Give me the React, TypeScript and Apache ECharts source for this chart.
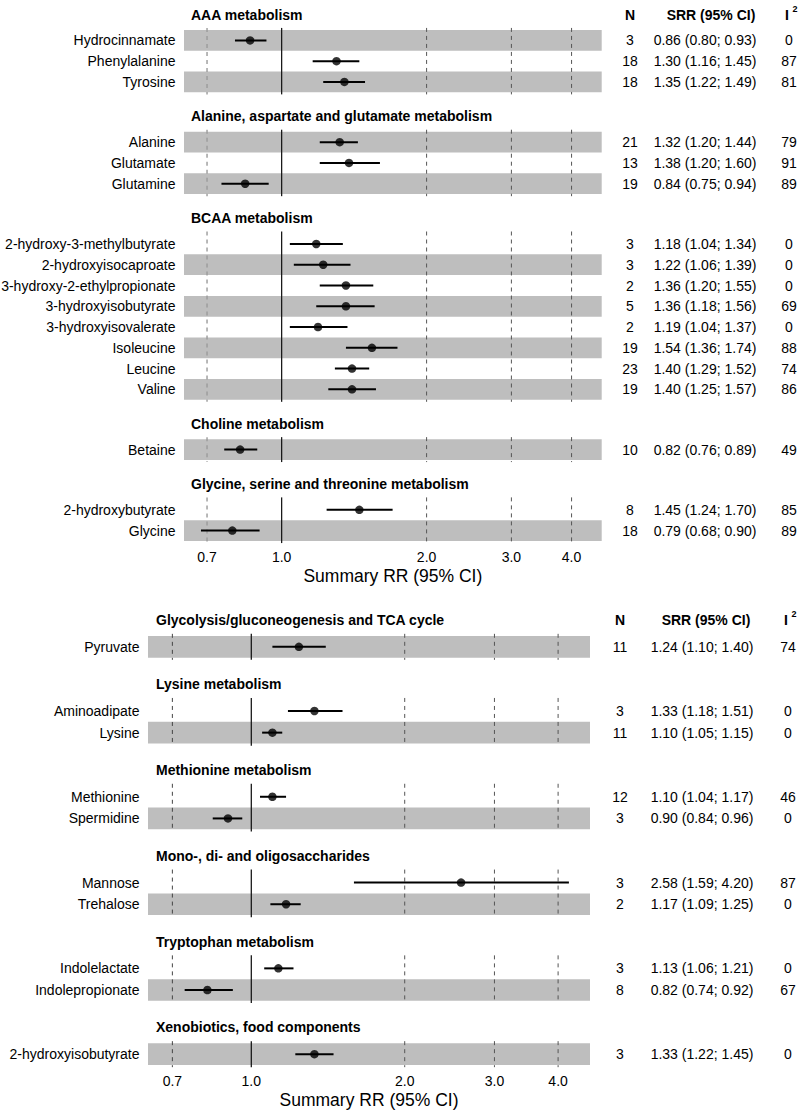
import React, { useEffect, useRef } from "react";
import * as echarts from "echarts";

// ---------- DATA ----------
const topGroups = [
  "AAA metabolism",
  "Alanine, aspartate and glutamate metabolism",
  "BCAA metabolism",
  "Choline metabolism",
  "Glycine, serine and threonine metabolism",
];
const topRowGroup = [0, 0, 0, 1, 1, 1, 2, 2, 2, 2, 2, 2, 2, 2, 3, 4, 4];
const topLabels = [
  "Hydrocinnamate",
  "Phenylalanine",
  "Tyrosine",
  "Alanine",
  "Glutamate",
  "Glutamine",
  "2-hydroxy-3-methylbutyrate",
  "2-hydroxyisocaproate",
  "3-hydroxy-2-ethylpropionate",
  "3-hydroxyisobutyrate",
  "3-hydroxyisovalerate",
  "Isoleucine",
  "Leucine",
  "Valine",
  "Betaine",
  "2-hydroxybutyrate",
  "Glycine",
];
const topN = [3, 18, 18, 21, 13, 19, 3, 3, 2, 5, 2, 19, 23, 19, 10, 8, 18];
const topEst = [0.86, 1.3, 1.35, 1.32, 1.38, 0.84, 1.18, 1.22, 1.36, 1.36, 1.19, 1.54, 1.4, 1.4, 0.82, 1.45, 0.79];
const topLo = [0.8, 1.16, 1.22, 1.2, 1.2, 0.75, 1.04, 1.06, 1.2, 1.18, 1.04, 1.36, 1.29, 1.25, 0.76, 1.24, 0.68];
const topHi = [0.93, 1.45, 1.49, 1.44, 1.6, 0.94, 1.34, 1.39, 1.55, 1.56, 1.37, 1.74, 1.52, 1.57, 0.89, 1.7, 0.9];
const topI2 = [0, 87, 81, 79, 91, 89, 0, 0, 0, 69, 0, 88, 74, 86, 49, 85, 89];

const bottomGroups = [
  "Glycolysis/gluconeogenesis and TCA cycle",
  "Lysine metabolism",
  "Methionine metabolism",
  "Mono-, di- and oligosaccharides",
  "Tryptophan metabolism",
  "Xenobiotics, food components",
];
const bottomRowGroup = [0, 1, 1, 2, 2, 3, 3, 4, 4, 5];
const bottomLabels = [
  "Pyruvate",
  "Aminoadipate",
  "Lysine",
  "Methionine",
  "Spermidine",
  "Mannose",
  "Trehalose",
  "Indolelactate",
  "Indolepropionate",
  "2-hydroxyisobutyrate",
];
const bottomN = [11, 3, 11, 12, 3, 3, 2, 3, 8, 3];
const bottomEst = [1.24, 1.33, 1.1, 1.1, 0.9, 2.58, 1.17, 1.13, 0.82, 1.33];
const bottomLo = [1.1, 1.18, 1.05, 1.04, 0.84, 1.59, 1.09, 1.06, 0.74, 1.22];
const bottomHi = [1.4, 1.51, 1.15, 1.17, 0.96, 4.2, 1.25, 1.21, 0.92, 1.45];
const bottomI2 = [74, 0, 0, 46, 0, 87, 0, 0, 67, 0];

const xTicks = [0.7, 1.0, 2.0, 3.0, 4.0];
const refValue = 1.0;
const xMin = 0.627;
const xMax = 4.62;
const xTitle = "Summary RR (95% CI)";
const colN = "N";
const colSRR = "SRR (95% CI)";
const colI = "I";
const colISup = "2";

// ---------- LAYOUT ----------
const FONT = "'Liberation Sans', Arial, Helvetica, sans-serif";

const panels = [
  {
    groups: topGroups, rowGroup: topRowGroup, labels: topLabels, n: topN,
    est: topEst, lo: topLo, hi: topHi, i2: topI2,
    grid: { left: 184, top: 30, width: 417.7, height: 511 },
    gap: 2.9, nX: 630, srrX: 705, srrHeadX: 711, iX: 787, headerDx: 7,
    firstDashColor: "#9a9a9a",
  },
  {
    groups: bottomGroups, rowGroup: bottomRowGroup, labels: bottomLabels, n: bottomN,
    est: bottomEst, lo: bottomLo, hi: bottomHi, i2: bottomI2,
    grid: { left: 148, top: 636, width: 442, height: 429 },
    gap: 2.96, nX: 620, srrX: 702, srrHeadX: 706, iX: 786, headerDx: 8,
    firstDashColor: "#444",
  },
];

function txt(text: string, x: number, y: number, align: string, opts: any = {}) {
  return {
    type: "text",
    silent: true,
    style: {
      text,
      x,
      y,
      align,
      textAlign: align,
      verticalAlign: "middle",
      textVerticalAlign: "middle",
      fontSize: opts.fontSize || 14,
      fontWeight: opts.bold ? "bold" : "normal",
      fontFamily: FONT,
      fill: "#000",
    },
  };
}

function buildOption() {
  const grids: any[] = [];
  const xAxes: any[] = [];
  const yAxes: any[] = [];
  const series: any[] = [];

  panels.forEach((p, idx) => {
    const ys: number[] = [];
    let y = 0;
    p.rowGroup.forEach((g, i) => {
      if (i > 0) y += g !== p.rowGroup[i - 1] ? p.gap : 1;
      ys.push(y);
    });
    const gFirst = p.groups.map((_, g) => ys[p.rowGroup.indexOf(g)]);
    const gLast = p.groups.map((_, g) => ys[p.rowGroup.lastIndexOf(g)]);
    const gray = ys.map((_, i) => (p.rowGroup.lastIndexOf(p.rowGroup[i]) - i) % 2 === 0);
    const yMax = ys[ys.length - 1] + 0.5;

    grids.push({ ...p.grid, containLabel: false });
    xAxes.push({
      type: "log",
      logBase: 10,
      gridIndex: idx,
      min: xMin,
      max: xMax,
      axisLine: { show: false },
      axisTick: { show: false },
      minorTick: { show: false },
      splitLine: { show: false },
      axisLabel: {
        customValues: xTicks,
        formatter: (v: number) => Number(v).toFixed(1),
        margin: 9,
        fontSize: 14,
        color: "#000",
        fontFamily: FONT,
        showMinLabel: true,
        showMaxLabel: true,
      },
      name: xTitle,
      nameLocation: "middle",
      nameGap: 26,
      nameTextStyle: { fontSize: 17.5, color: "#000", fontFamily: FONT },
    });
    yAxes.push({
      type: "value",
      gridIndex: idx,
      inverse: true,
      min: -0.5,
      max: yMax,
      show: false,
    });

    // bands
    series.push({
      type: "custom",
      xAxisIndex: idx,
      yAxisIndex: idx,
      clip: false,
      silent: true,
      z: 1,
      data: ys.filter((_, i) => gray[i]).map((yy) => [refValue, yy]),
      encode: { x: 0, y: 1 },
      renderItem: (params: any, api: any) => {
        const cs = params.coordSys;
        const yy = api.value(1);
        const a = api.coord([refValue, yy - 0.5])[1];
        const b = api.coord([refValue, yy + 0.5])[1];
        return {
          type: "rect",
          shape: { x: cs.x, y: a, width: cs.width, height: b - a },
          style: { fill: "#bebebe" },
        };
      },
    });

    // vertical reference / grid lines per group
    const vData: any[] = [];
    p.groups.forEach((_, g) => {
      xTicks.forEach((t) => vData.push([t, gFirst[g] - 0.6, gLast[g] + 0.6]));
    });
    series.push({
      type: "custom",
      xAxisIndex: idx,
      yAxisIndex: idx,
      clip: false,
      silent: true,
      z: 2,
      data: vData,
      encode: { x: 0, y: [1, 2] },
      renderItem: (params: any, api: any) => {
        const v = api.value(0);
        const p0 = api.coord([v, api.value(1)]);
        const p1 = api.coord([v, api.value(2)]);
        const isRef = Math.abs(v - refValue) < 1e-9;
        const isFirst = Math.abs(v - xTicks[0]) < 1e-9;
        return {
          type: "line",
          shape: { x1: p0[0], y1: p0[1], x2: p1[0], y2: p1[1] },
          style: {
            stroke: isRef ? "#1a1a1a" : isFirst ? p.firstDashColor : "#555",
            lineWidth: isRef ? 1.3 : isFirst && idx === 0 ? 1.4 : 1,
            lineDash: isRef ? null : [4, 4],
          },
        };
      },
    });

    // CI bars
    series.push({
      type: "custom",
      xAxisIndex: idx,
      yAxisIndex: idx,
      clip: false,
      silent: true,
      z: 3,
      data: ys.map((yy, i) => [p.lo[i], p.hi[i], yy]),
      encode: { x: [0, 1], y: 2 },
      renderItem: (params: any, api: any) => {
        const a = api.coord([api.value(0), api.value(2)]);
        const b = api.coord([api.value(1), api.value(2)]);
        return {
          type: "line",
          shape: { x1: a[0], y1: a[1], x2: b[0], y2: b[1] },
          style: { stroke: "#000", lineWidth: 2 },
        };
      },
    });

    // point estimates
    series.push({
      type: "scatter",
      xAxisIndex: idx,
      yAxisIndex: idx,
      silent: true,
      z: 4,
      symbol: "circle",
      symbolSize: 8.5,
      itemStyle: { color: "#000" },
      data: ys.map((yy, i) => [p.est[i], yy]),
    });

    // row texts
    series.push({
      type: "custom",
      xAxisIndex: idx,
      yAxisIndex: idx,
      clip: false,
      silent: true,
      z: 5,
      data: ys.map((yy, i) => [refValue, yy, i]),
      encode: { x: 0, y: 1 },
      renderItem: (params: any, api: any) => {
        const cs = params.coordSys;
        const i = api.value(2);
        const yp = api.coord([refValue, api.value(1)])[1];
        const srr = `${p.est[i].toFixed(2)} (${p.lo[i].toFixed(2)}; ${p.hi[i].toFixed(2)})`;
        return {
          type: "group",
          children: [
            txt(p.labels[i], cs.x - 8.5, yp, "right"),
            txt(String(p.n[i]), p.nX, yp, "center"),
            txt(srr, p.srrX, yp, "center"),
            txt(String(p.i2[i]), p.iX + 2, yp, "center"),
          ],
        };
      },
    });

    // group headers + column headers
    series.push({
      type: "custom",
      xAxisIndex: idx,
      yAxisIndex: idx,
      clip: false,
      silent: true,
      z: 5,
      data: p.groups.map((_, g) => [refValue, gFirst[g] - 1.24, g]),
      encode: { x: 0, y: 1 },
      renderItem: (params: any, api: any) => {
        const cs = params.coordSys;
        const g = api.value(2);
        const yp = api.coord([refValue, api.value(1)])[1];
        const children: any[] = [txt(p.groups[g], cs.x + p.headerDx, yp, "left", { bold: true })];
        if (g === 0) {
          children.push(txt(colN, p.nX, yp, "center", { bold: true }));
          children.push(txt(colSRR, p.srrHeadX, yp, "center", { bold: true }));
          children.push(txt(colI, p.iX, yp, "center", { bold: true }));
          children.push(txt(colISup, p.iX + 8, yp - 6, "center", { bold: true, fontSize: 9 }));
        }
        return { type: "group", children };
      },
    });
  });

  return {
    animation: false,
    backgroundColor: "#fff",
    textStyle: { fontFamily: FONT },
    grid: grids,
    xAxis: xAxes,
    yAxis: yAxes,
    series,
  };
}

export default function App() {
  const ref = useRef<HTMLDivElement>(null);
  useEffect(() => {
    if (!ref.current) return;
    const chart = echarts.init(ref.current, null, { renderer: "svg" });
    chart.setOption(buildOption() as any);
    return () => chart.dispose();
  }, []);
  return (
    <div
      ref={ref}
      style={{ position: "absolute", left: 0, top: 0, width: 800, height: 1116, background: "#fff" }}
    />
  );
}
